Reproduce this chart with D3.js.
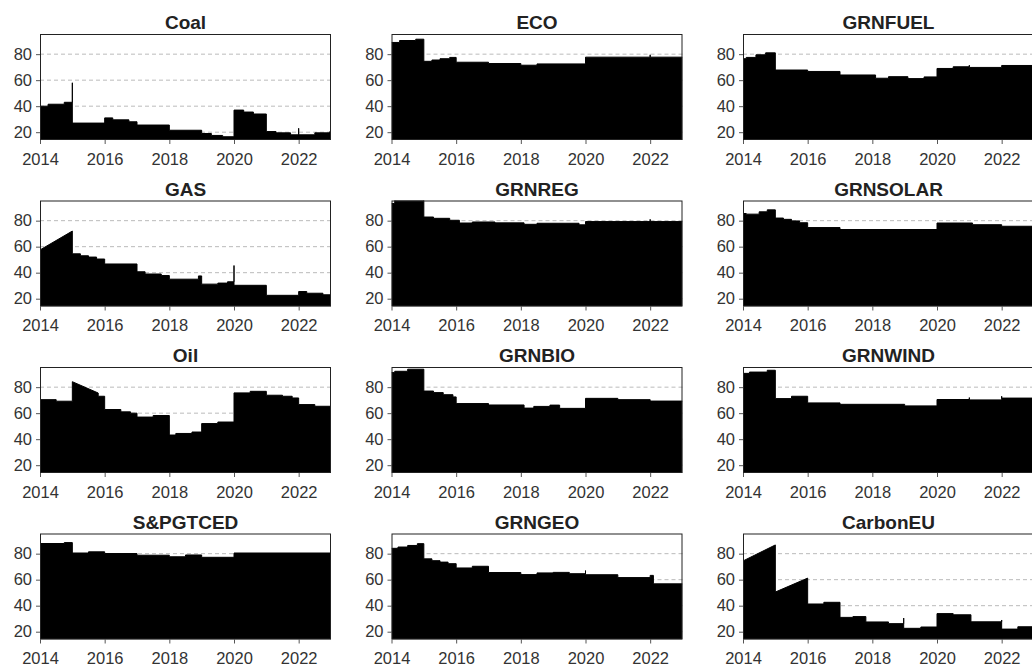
<!DOCTYPE html>
<html lang="en">
<head>
<meta charset="utf-8">
<title>Indices</title>
<script src="https://cdn.jsdelivr.net/npm/d3@7/dist/d3.min.js"></script>
<style type="text/css">
body { margin: 0; background: #fff; }
.title { font: bold 19px "Liberation Sans", Arial, sans-serif; fill: #222; }
.tick text { font: 16.5px "Liberation Sans", Arial, sans-serif; fill: #333; }
.tick line { stroke: #555; }
.grid { stroke: #bbb; stroke-dasharray: 4,3; stroke-width: 1; }
.frame { fill: none; stroke: #222; stroke-width: 1; }
.fill { fill: #000; }
.edge { fill: none; stroke: #000; stroke-width: 1; }
</style>
</head>
<body>
<div id="chart"></div>
<script type="text/javascript">
"use strict";

// segments: [from, to, value] or [from, to, valueStart, valueEnd]
var names = ["Coal", "ECO", "GRNFUEL", "GAS", "GRNREG", "GRNSOLAR",
             "Oil", "GRNBIO", "GRNWIND", "S&PGTCED", "GRNGEO", "CarbonEU"];

var coal = [[2014,2014.25,40],[2014.25,2014.75,41.5],[2014.75,2015,43],[2015,2015,58],
  [2015,2016,27],[2016,2016.25,31],[2016.25,2016.75,29.5],[2016.75,2017,28],[2017,2018,25.5],
  [2018,2019,21.5],[2019,2019.3,19],[2019.3,2019.65,17.5],[2019.65,2020,16.5],[2020,2020.3,37],
  [2020.3,2020.6,35.5],[2020.6,2021,34],[2021,2021.3,20.5],[2021.3,2021.75,19.5],[2021.75,2022,18],
  [2022,2022,23],[2022,2022.5,18],[2022.5,2022.95,19.5],[2022.95,2023,19.5,22]];

var eco = [[2014,2014.25,89],[2014.25,2014.75,90.5],[2014.75,2015,91.5],[2015,2015.25,74.5],
  [2015.25,2015.5,75.5],[2015.5,2015.8,76.5],[2015.8,2016,77.5],[2016,2017,73.8],[2017,2018,72.8],
  [2018,2018.5,71.5],[2018.5,2020,72.5],[2020,2022,77.7],[2022,2022,79.5],[2022,2023,77.7]];

var grnfuel = [[2014,2014,82],[2014,2014.1,76.5],[2014.1,2014.4,77.5],[2014.4,2014.7,79.5],
  [2014.7,2015,81],[2015,2016,67.8],[2016,2017,66.7],[2017,2018.1,64],[2018.1,2018.5,61.5],
  [2018.5,2019.1,62.7],[2019.1,2019.6,61.2],[2019.6,2020,62.5],[2020,2020.5,69],[2020.5,2021,70.3],
  [2021,2021,71.5],[2021,2022,69.8],[2022,2023,71.3]];

var gas = [[2014,2015,57.5,72],[2015,2015.25,54.5],[2015.25,2015.5,53],[2015.5,2015.75,52],
  [2015.75,2016,50.5],[2016,2017,46.7],[2017,2017.25,40.7],[2017.25,2017.75,39],[2017.75,2018,37.8],
  [2018,2018.9,35],[2018.9,2019,37.5],[2019,2019.5,31.2],[2019.5,2019.8,32],[2019.8,2020,33],
  [2020,2020,45.5],[2020,2021,30.3],[2021,2022,22.6],[2022,2022.25,25.5],[2022.25,2022.75,24.2],
  [2022.75,2023,23]];

var grnreg = [[2014,2014.1,93.2],[2014.1,2015,97],[2015,2015.3,82.8],[2015.3,2015.8,81.8],
  [2015.8,2016.1,80.3],[2016.1,2016.5,78.2],[2016.5,2017.2,79],[2017.2,2018.1,78.3],
  [2018.1,2018.5,77.2],[2018.5,2019.8,78],[2019.8,2020,76.8],[2020,2022,79.3],[2022,2022,81],
  [2022,2023,79.3]];

var grnsolar = [[2014,2014.1,85.5],[2014.1,2014.5,85],[2014.5,2014.75,86.8],[2014.75,2015,88.3],
  [2015,2015.25,82],[2015.25,2015.5,81],[2015.5,2015.75,79.8],[2015.75,2016,78.4],[2016,2017,74.7],
  [2017,2020,73.2],[2020,2021.1,78.2],[2021.1,2022,76.9],[2022,2023,75.7]];

var oil = [[2014,2014.5,70.4],[2014.5,2015,69.2],[2015,2015.8,84.2,75.5],[2015.8,2016,73],
  [2016,2016.5,62.8],[2016.5,2016.8,61],[2016.8,2017,60],[2017,2017.5,57],[2017.5,2018,58.2],
  [2018,2018.2,43.2],[2018.2,2018.7,44.4],[2018.7,2019,45.5],[2019,2019.5,52],[2019.5,2020,53.2],
  [2020,2020.5,75.6],[2020.5,2021,76.8],[2021,2021.5,73.8],[2021.5,2021.8,73],[2021.8,2022,71.7],
  [2022,2022.5,66.6],[2022.5,2023,65.3]];

var grnbio = [[2014,2014.1,91.2],[2014.1,2014.5,92.2],[2014.5,2015,93.8],[2015,2015.3,77],
  [2015.3,2015.6,75.8],[2015.6,2015.9,74.2],[2015.9,2016,72.5],[2016,2017,67.4],[2017,2018.1,66.3],
  [2018.1,2018.4,63.9],[2018.4,2018.9,65.2],[2018.9,2019.2,66.2],[2019.2,2020,63.7],[2020,2021,71.4],
  [2021,2022,70.4],[2022,2023,69.3]];

var grnwind = [[2014,2014.2,90.6],[2014.2,2014.75,91.6],[2014.75,2015,93],[2015,2015.5,71.2],
  [2015.5,2016,73],[2016,2017,67.9],[2017,2019,66.8],[2019,2020,65.6],[2020,2021,70.5],
  [2021,2021,72],[2021,2022,70.2],[2022,2022,73],[2022,2023,71.6]];

var spgtced = [[2014,2014.75,87.8],[2014.75,2015,88.5],[2015,2015.5,80.5],[2015.5,2016,81.4],
  [2016,2017,80.1],[2017,2018,78.8],[2018,2018.5,77.6],[2018.5,2019,79],[2019,2020,77.2],
  [2020,2023,80.5]];

var grngeo = [[2014,2014.2,84.1],[2014.2,2014.5,85.1],[2014.5,2014.8,86.3],[2014.8,2015,87.7],
  [2015,2015.25,76],[2015.25,2015.5,74.6],[2015.5,2015.75,73.5],[2015.75,2016,72.3],[2016,2016.5,69],
  [2016.5,2017,70.3],[2017,2018,65.5],[2018,2018.5,63.9],[2018.5,2019,65.2],[2019,2019.5,65.6],
  [2019.5,2020,64.6],[2020,2020,67],[2020,2021,63.8],[2021,2022,61.6],[2022,2022.1,63.3],
  [2022.1,2023,56.8]];

var carboneu = [[2014,2015,74.4,86.7],[2015,2016,50.5,61.2],[2016,2016.5,41.3],[2016.5,2017,42.6],
  [2017,2017.4,31],[2017.4,2017.8,31.6],[2017.8,2018.5,27.5],[2018.5,2018.97,26.2],[2018.97,2018.97,30.5],
  [2018.97,2019.5,22.6],[2019.5,2020,23.6],[2020,2020.5,33.9],[2020.5,2021.05,33],[2021.05,2022,27.6],
  [2022,2022,29],[2022,2022.5,22],[2022.5,2023,23.8]];

var series = [coal, eco, grnfuel, gas, grnreg, grnsolar, oil, grnbio, grnwind, spgtced, grngeo, carboneu];

var yTicks = [20, 40, 60, 80];
var xTicks = [2014, 2016, 2018, 2020, 2022];

var width = 1032, height = 671;
var panelW = 291, panelH = 106;
var left0 = 40, top0 = 34, colStep = 351.5, rowStep = 166.5;

var svg = d3.select("#chart").append("svg")
    .attr("width", width)
    .attr("height", height);

var x = d3.scaleLinear().domain([2014, 2023]).range([0, panelW]);
var y = d3.scaleLinear().domain([14, 95.5]).range([panelH, 0]);

svg.append("clipPath").attr("id", "clip")
  .append("rect").attr("width", panelW).attr("height", panelH);

function toPoints(segs)
{
  var pts = [];
  segs.forEach(function(s) {
    pts.push([s[0], s[2]]);
    pts.push([s[1], s.length > 3 ? s[3] : s[2]]);
  });
  return pts;
}

var area = d3.area()
    .x(function(d) { return x(d[0]); })
    .y0(panelH)
    .y1(function(d) { return y(d[1]); });

var line = d3.line()
    .x(function(d) { return x(d[0]); })
    .y(function(d) { return y(d[1]); });

series.forEach(function(segs, i)
{
  var col = i % 3, row = Math.floor(i / 3);
  var g = svg.append("g")
      .attr("transform", "translate(" + (left0 + col * colStep) + "," + (top0 + row * rowStep) + ")");

  g.selectAll(".grid").data(yTicks).enter().append("line")
      .attr("class", "grid")
      .attr("x1", 0).attr("x2", panelW)
      .attr("y1", function(d) { return y(d); })
      .attr("y2", function(d) { return y(d); });

  var pts = toPoints(segs);
  var plot = g.append("g").attr("clip-path", "url(#clip)");
  plot.append("path").datum(pts).attr("class", "fill").attr("d", area);
  plot.append("path").datum(pts).attr("class", "edge").attr("d", line);

  g.append("g")
      .attr("transform", "translate(0," + panelH + ")")
      .call(d3.axisBottom(x).tickValues(xTicks).tickFormat(d3.format("d")).tickSize(4).tickPadding(9))
      .call(function(a) { a.select(".domain").remove(); });

  g.append("g")
      .call(d3.axisLeft(y).tickValues(yTicks).tickSize(4).tickPadding(4))
      .call(function(a) { a.select(".domain").remove(); });

  g.append("rect").attr("class", "frame")
      .attr("x", 0.5).attr("y", 0.5)
      .attr("width", panelW - 1).attr("height", panelH - 1);

  g.append("text").attr("class", "title")
      .attr("x", panelW / 2).attr("y", -5)
      .attr("text-anchor", "middle")
      .text(names[i]);
});
</script>
</body>
</html>
